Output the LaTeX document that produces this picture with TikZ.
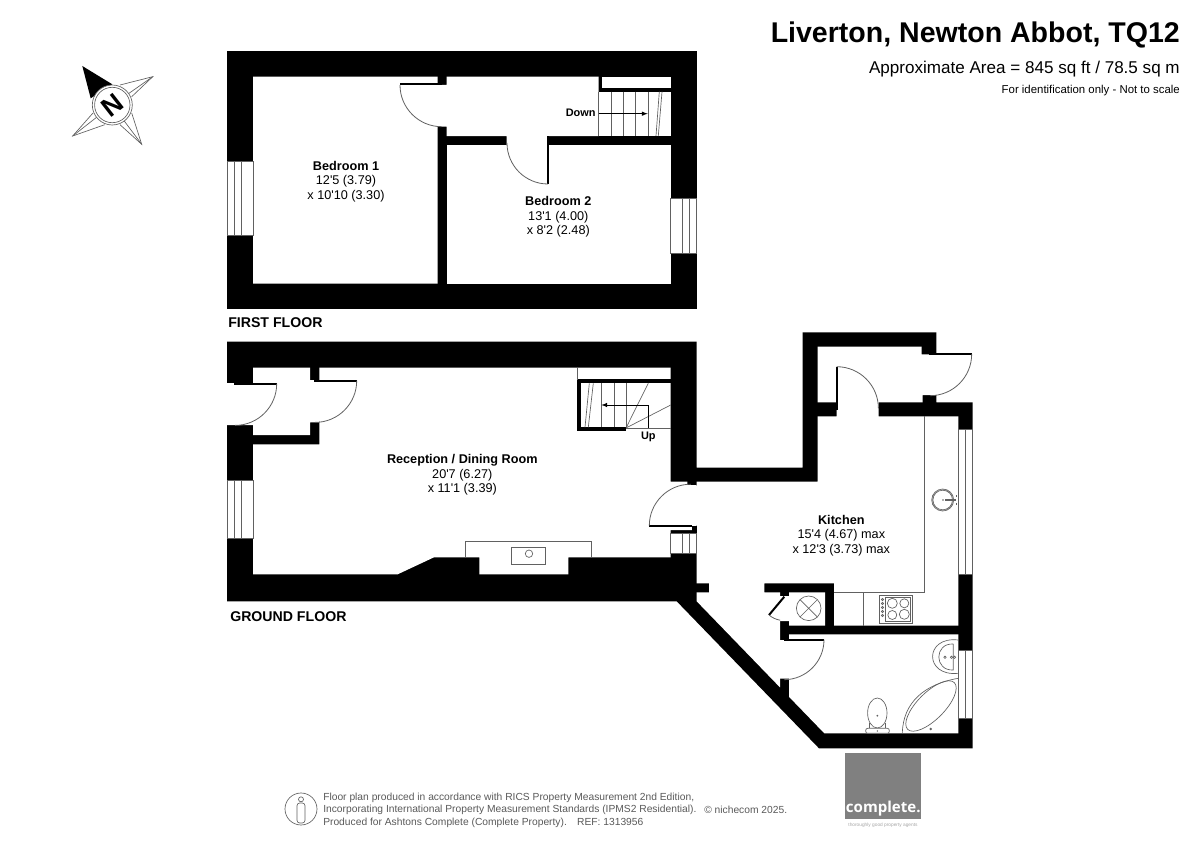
\documentclass[tikz,border=0pt]{standalone}
\usepackage{fontspec}
\newfontfamily\planfont{Liberation Sans}
\newfontfamily\logofont{Open Sans}
\definecolor{linegrey}{gray}{0.38}
\definecolor{footgrey}{gray}{0.35}
\definecolor{logogrey}{gray}{0.5}
\tikzset{
    wallblock/.style={fill=black},
    roomspace/.style={fill=white},
    windowbox/.style={fill=white, draw=linegrey, line width=.5pt},
    fitting/.style={draw=linegrey, line width=.5pt},
    thinblack/.style={draw=black, line width=.5pt},
    doorleaf/.style={draw=black, line width=1.5pt},
    doorswing/.style={draw=linegrey, line width=.6pt},
    roomlabel/.style={font=\planfont\fontsize{9.5}{10.85}\selectfont, align=center, inner sep=0pt},
    floorlabel/.style={font=\planfont\bfseries\fontsize{10.6}{12}\selectfont, anchor=west, inner sep=0pt},
    stairlabel/.style={font=\planfont\bfseries\fontsize{8.2}{10}\selectfont, inner sep=0pt},
    footlabel/.style={font=\planfont\fontsize{7.7}{9.4}\selectfont, text=footgrey, inner sep=0pt},
}
\begin{document}
\begin{tikzpicture}[x=.75pt,y=-.75pt]
    \useasboundingbox (0,0) rectangle (1200,849);
    % first floor
    \fill[wallblock] (227,50.7) rectangle (696.7,309.3);
    \fill[roomspace] (253,76.7) -- (437.7,76.7) -- (437.7,85) -- (446.7,85) -- (446.7,76.7) -- (598.7,76.7) -- (598.7,136) -- (548.3,136) -- (548.3,145.3) -- (506.7,145.3) -- (506.7,136) -- (446.7,136) -- (446.7,126.7) -- (437.7,126.7) -- (437.7,283.7) -- (253,283.7) -- cycle;
    \fill[roomspace] (446.7,145.3) rectangle (670.7,283.7);
    \fill[roomspace] (506.7,136) rectangle (548.3,146);
    \fill[roomspace] (602.3,76.7) rectangle (670.7,88.3);
    \fill[roomspace] (598.7,91.7) rectangle (670.7,136);
    \draw[windowbox] (227.3,161) rectangle (253,235.3);
    \draw[fitting] (234.3,161) -- (234.3,235.3) (241.7,161) -- (241.7,235.3);
    \draw[windowbox] (670.7,198) rectangle (696.3,253.3);
    \draw[fitting] (682,198) -- (682,253.3) (689,198) -- (689,253.3);
    \foreach \tx in {598.7,611,623.3,635.7,648} {
        \draw[fitting] (\tx,91.7) -- (\tx,136);
    }
    \draw[fitting] (656,136) -- (659.3,91.7) (658.3,136) -- (662,91.7);
    \draw[thinblack,-latex] (598.7,113.7) -- (647.7,113.7);
    \draw[doorleaf] (400,84.5) -- (442,84.5);
    \draw[doorswing] (400,85) arc (180:90:41.7);
    \draw[doorleaf] (548,136) -- (548,183.5);
    \draw[doorswing] (507,143) arc (180:90:41);
    \node (bedone) at (346,181.5) [roomlabel] {\textbf{Bedroom 1}\\12'5 (3.79)\\x 10'10 (3.30)};
    \node (bedtwo) at (558.3,217) [roomlabel] {\textbf{Bedroom 2}\\13'1 (4.00)\\x 8'2 (2.48)};
    \node (downlabel) at (580.7,113) [stairlabel] {Down};
    \node (firstfloor) at (228,322.7) [floorlabel] {FIRST FLOOR};
    % ground floor and the kitchen wing
    \fill[wallblock] (227,341.7) -- (696.7,341.7) -- (696.7,467.7) -- (802.7,467.7) -- (802.7,332.3) -- (936.3,332.3) -- (936.3,402.3) -- (972.7,402.3) -- (972.7,748.3) -- (819,748.3) -- (676.7,601.3) -- (227,601.3) -- cycle;
    \fill[roomspace] (253,367.7) -- (310,367.7) -- (310,380) -- (319.3,380) -- (319.3,422.3) -- (310,422.3) -- (310,435) -- (253,435) -- (253,425) -- (226,425) -- (226,383) -- (253,383) -- cycle;
    \fill[roomspace] (319.3,367.7) -- (670.7,367.7) -- (670.7,481.7) -- (687.3,481.7) -- (687.3,485) -- (696.7,485) -- (696.7,530) -- (670.7,530) -- (670.7,557.3) -- (568.3,557.3) -- (568.3,574.3) -- (479.3,574.3) -- (479.3,557.3) -- (434,557.3) -- (397.7,574.3) -- (253,574.3) -- (253,444.3) -- (319.3,444.3) -- cycle;
    \fill[roomspace] (696.7,481.7) -- (817.7,481.7) -- (817.7,416.3) -- (836.7,416.3) -- (836.7,402.3) -- (817.7,402.3) -- (817.7,346.7) -- (921.7,346.7) -- (921.7,354.3) -- (937.5,354.3) -- (937.5,395) -- (922.7,395) -- (922.7,402.3) -- (878.7,402.3) -- (878.7,416.3) -- (958.3,416.3) -- (958.3,625.7) -- (834,625.7) -- (834,583.3) -- (764.3,583.3) -- (764.3,592.3) -- (780,592.3) -- (780,687.4) -- (696.7,601.3) -- (696.7,592.3) -- (709,592.3) -- (709,583.3) -- (696.7,583.3) -- cycle;
    \fill[roomspace] (789,634.3) -- (958.3,634.3) -- (958.3,733.3) -- (824.3,733.3) -- (789,696.8) -- (789,678.7) -- (780,678.7) -- (780,640) -- (789,640) -- cycle;
    \fill[roomspace] (789,592.3) -- (825,592.3) -- (825,625.7) -- (789,625.7) -- (789,621) -- (780,621) -- (780,596) -- (789,596) -- cycle;
    % close the hair lines where two rooms meet
    \fill[roomspace] (317,381) rectangle (321,421.3);
    \fill[roomspace] (694,486) rectangle (699,525);
    \fill[roomspace] (778,641) rectangle (782,678);
    \fill[wallblock] (691.7,526) rectangle (696.7,533);
    % windows
    \draw[windowbox] (227.3,480.7) rectangle (253,538.3);
    \draw[fitting] (234.3,480.7) -- (234.3,538.3) (241.7,480.7) -- (241.7,538.3);
    \draw[windowbox] (670.7,533) rectangle (696.7,553.3);
    \draw[fitting] (682,533) -- (682,553.3) (689,533) -- (689,553.3);
    \draw[windowbox] (958.3,429) rectangle (972.7,574.7);
    \draw[fitting] (965.5,429) -- (965.5,574.7);
    \draw[windowbox] (958.3,650) rectangle (972.7,718.3);
    \draw[fitting] (965.5,650) -- (965.5,718.3);
    % stairs
    \fill[wallblock] (577.3,379.3) rectangle (670.7,383.3);
    \fill[wallblock] (577.3,379.3) rectangle (581,431);
    \fill[wallblock] (577.3,427.3) rectangle (626,431);
    \draw[fitting] (577.3,367.7) -- (577.3,380) (626,428) -- (670.7,428);
    \foreach \tx in {601.3,614,626} {
        \draw[fitting] (\tx,383.3) -- (\tx,427.3);
    }
    \draw[fitting] (585,427.3) -- (589.3,383.3) (588.3,427.3) -- (593.3,383.3);
    \draw[fitting] (626,428) -- (648.3,383.3) (626,428) -- (670.7,405);
    \draw[thinblack,-latex] (648.3,428) -- (648.3,405) -- (601.3,405);
    % doors
    \draw[doorleaf] (234,383.7) -- (276.7,383.7);
    \draw[doorswing] (276.7,383.7) arc (0:90:41.7);
    \draw[doorleaf] (314,380.7) -- (356.7,380.7);
    \draw[doorswing] (356.7,380.7) arc (0:90:41.7);
    \draw[doorleaf] (649.3,525.7) -- (692,525.7);
    \draw[doorswing] (649.3,525.7) arc (180:270:41.5);
    \draw[doorleaf] (929.3,354) -- (971.7,354);
    \draw[doorswing] (971.7,354) arc (0:90:41.7);
    \draw[doorleaf] (836.7,366.7) -- (836.7,410);
    \draw[doorswing] (836.7,366.7) arc (270:360:41.7);
    \draw[doorleaf] (784.3,596.7) -- (769,615);
    \draw[doorswing] (769,615) arc (130:100:23.9);
    \draw[doorleaf] (784.3,639.7) -- (824,639.7);
    \draw[doorswing] (824,639.7) arc (0:90:40);
    % chimney breast
    \draw[fitting] (465.7,557.3) -- (465.7,541.3) -- (591,541.3) -- (591,557.3);
    \draw[fitting] (511.7,547.3) rectangle (545.7,564.7);
    \draw[fitting] (529,553.7) circle (3.7);
    % kitchen fittings
    \draw[fitting] (924.3,416.3) -- (924.3,592.3) -- (834,592.3);
    \draw[fitting] (863.3,592.3) -- (863.3,625.7);
    \draw[fitting] (942.7,500) circle (11) (942.7,500) circle (9.8);
    \draw[fitting, line width=1.2pt] (945,500) -- (956,500);
    \draw[fitting] (956.5,495) -- (956.5,497) (956.5,503) -- (956.5,505);
    \fill[linegrey] (943,500) circle (.8);
    \draw[fitting] (879.7,595.3) rectangle (912.3,623.3);
    \draw[fitting] (885.7,597.3) rectangle (910.7,621.7);
    \draw[fitting] (892.3,603.3) circle (5) (904.3,603.3) circle (4.5) (892.3,615) circle (4.5) (904.3,614.3) circle (5);
    \foreach \ky in {599.5,603.5,607.5,611.5,615.5} {
        \draw[fitting] (882.5,\ky) circle (1.2);
    }
    \draw[fitting] (808.7,608.3) circle (12.3);
    \draw[fitting] (800,599.6) -- (817.4,617) (817.4,599.6) -- (800,617);
    % bathroom fittings
    \draw[fitting] (902.3,733.3) .. controls (903,702) and (925,684) .. (958.3,678.3);
    \draw[fitting, rotate around={45:(931,706)}] (931,706) ellipse [x radius=33, y radius=13.5];
    \fill[linegrey] (930.7,729) circle (1.3);
    \draw[fitting] (958.3,640) .. controls (924,636) and (924,677) .. (958.3,673.3);
    \draw[fitting] (953.3,644) -- (953.3,670) .. controls (934,671) and (934,643) .. (953.3,644);
    \draw[fitting] (945,657.3) circle (1.2) (951.5,657.3) circle (1.2) (954.5,657.3) circle (1.2);
    \draw[fitting] (877.3,713) ellipse [x radius=9.7, y radius=15];
    \draw[fitting] (869,723) -- (869,728.3) (885.7,723) -- (885.7,728.3);
    \draw[fitting, rounded corners=1.5pt, fill=white] (865.7,728.3) rectangle (889.3,733.3);
    \fill[linegrey] (877.3,715.7) circle (1) (877.3,731) circle (.8);
    % labels of the ground floor
    \node (receptionlabel) at (462.3,475) [roomlabel] {\textbf{Reception / Dining Room}\\20'7 (6.27)\\x 11'1 (3.39)};
    \node (kitchenlabel) at (841.3,535.5) [roomlabel] {\textbf{Kitchen}\\15'4 (4.67) max\\x 12'3 (3.73) max};
    \node (uplabel) at (648.3,436.5) [stairlabel] {Up};
    \node (groundfloor) at (230,616.3) [floorlabel] {GROUND FLOOR};
    % compass
    \draw[fitting] (120,85) -- (152.7,76.7) -- (131.7,96.7);
    \draw[fitting] (131.7,113) -- (141.7,144.3) -- (120,124.7);
    \draw[fitting] (104.7,124.7) -- (72.7,136) -- (93,113);
    \draw[fitting] (152.7,76.7) -- (112.3,105) -- (141.7,144.3) (72.7,136) -- (112.3,105);
    \fill[black] (82.3,66) -- (112.3,84.3) -- (90.7,98.3) -- cycle;
    \draw[fitting, fill=white] (112.3,105) circle (20);
    \draw[fitting] (112.3,105) circle (17.7);
    \node (northmark) at (112.3,105) [rotate=38, font=\planfont\bfseries\fontsize{20}{20}\selectfont, inner sep=0pt] {N};
    % title
    \node (titlelabel) at (1180,35) [anchor=east, inner sep=0pt, font=\planfont\bfseries\fontsize{21.4}{24}\selectfont] {Liverton, Newton Abbot, TQ12};
    \node (arealabel) at (1180,69) [anchor=east, inner sep=0pt, font=\planfont\fontsize{12.8}{14}\selectfont] {Approximate Area = 845 sq ft / 78.5 sq m};
    \node (scalelabel) at (1180,90.5) [anchor=east, inner sep=0pt, font=\planfont\fontsize{8.55}{10}\selectfont] {For identification only - Not to scale};
    % footer
    \draw[fitting] (301,809) circle (16);
    \draw[fitting] (301,799.3) circle (2.5);
    \draw[fitting, rounded corners=2pt] (297,803) rectangle (305,823);
    \node (creditlabel) at (323,810) [footlabel, anchor=west, align=left] {Floor plan produced in accordance with RICS Property Measurement 2nd Edition,\\Incorporating International Property Measurement Standards (IPMS2 Residential).\\Produced for Ashtons Complete (Complete Property).\quad REF: 1313956};
    \node (copylabel) at (704,810) [footlabel, anchor=west] {© nichecom 2025.};
    \fill[logogrey] (845,753.3) rectangle (921.2,819);
    \node (logolabel) at (883.3,809) [inner sep=0pt, text=white, font=\logofont\bfseries\fontsize{11.3}{12}\selectfont] {complete.};
    \node (taglabel) at (883,825) [inner sep=0pt, text=gray!70, font=\planfont\fontsize{3.6}{4}\selectfont] {thoroughly good property agents};
\end{tikzpicture}
\end{document}
